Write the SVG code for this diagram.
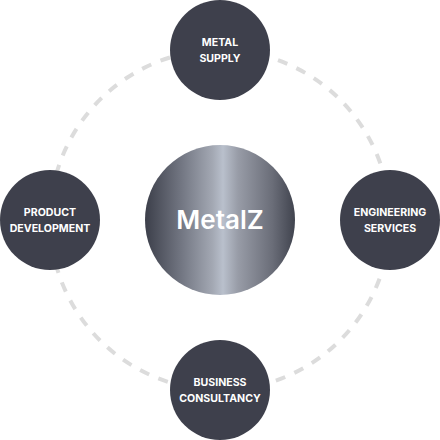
<svg xmlns="http://www.w3.org/2000/svg" width="440" height="440" viewBox="0 0 440 440">
<defs>
<linearGradient id="metal" x1="0" y1="0" x2="1" y2="0">
<stop offset="0" stop-color="#3c3f4a"/>
<stop offset="0.25" stop-color="#747884"/>
<stop offset="0.45" stop-color="#a3a8b3"/>
<stop offset="0.52" stop-color="#b9c0cc"/>
<stop offset="0.62" stop-color="#989ca7"/>
<stop offset="0.85" stop-color="#6a6d78"/>
<stop offset="1" stop-color="#40434e"/>
</linearGradient>
<style>
.node{fill:#3e404c}
.lbl{font-family:Inter,"Liberation Sans",sans-serif;font-size:10.6px;font-weight:700;fill:#ffffff;text-anchor:middle}
.ring{fill:none;stroke:#dcdcdc;stroke-width:4;stroke-dasharray:10 10}
</style>
</defs>
<g id="connectors">
<circle class="ring" cx="220" cy="220" r="170"/>
</g>
<g id="center">
<circle cx="220" cy="220" r="75" fill="url(#metal)"/>
<text x="220" y="229" font-family="Inter,'Liberation Sans',sans-serif" font-size="26" font-weight="600" fill="#ffffff" text-anchor="middle">MetalZ</text>
</g>
<g id="metal-supply">
<circle class="node" cx="220" cy="50" r="50"/>
<text class="lbl" x="220" y="46">METAL</text>
<text class="lbl" x="220" y="62">SUPPLY</text>
</g>
<g id="product-development">
<circle class="node" cx="50" cy="220" r="50"/>
<text class="lbl" x="50" y="216">PRODUCT</text>
<text class="lbl" x="50" y="232">DEVELOPMENT</text>
</g>
<g id="engineering-services">
<circle class="node" cx="390" cy="220" r="50"/>
<text class="lbl" x="390" y="216">ENGINEERING</text>
<text class="lbl" x="390" y="232">SERVICES</text>
</g>
<g id="business-consultancy">
<circle class="node" cx="220" cy="390" r="50"/>
<text class="lbl" x="220" y="386">BUSINESS</text>
<text class="lbl" x="220" y="402">CONSULTANCY</text>
</g>
</svg>
